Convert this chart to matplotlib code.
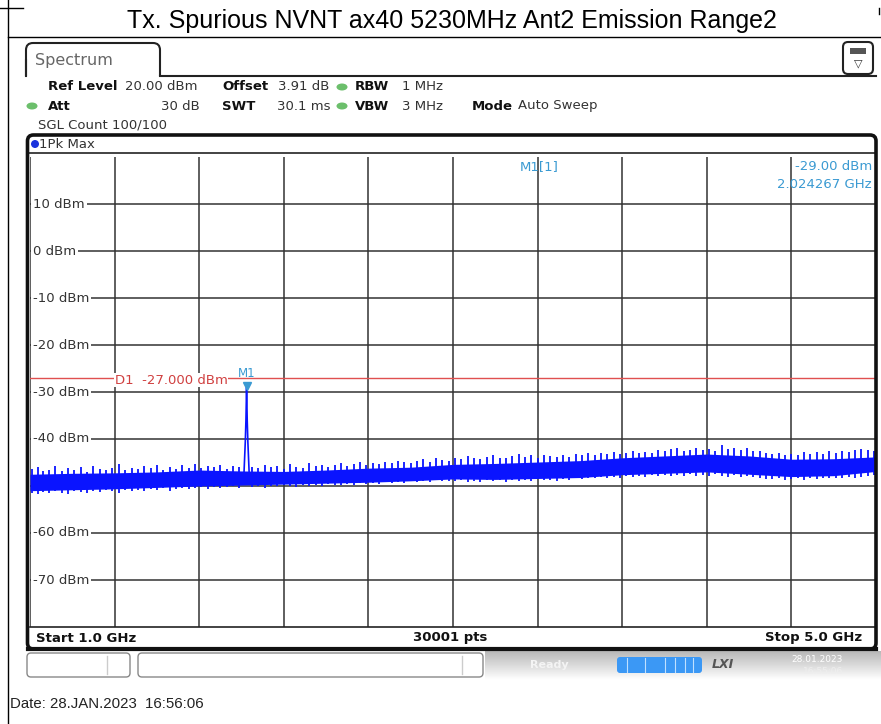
import numpy as np
import matplotlib.pyplot as plt
from matplotlib.patches import FancyBboxPatch, Rectangle, Ellipse

# ---- data (GHz / dBm) ----
start_ghz, stop_ghz = 1.0, 5.0
ref_level = 20
bottom_level = -80
level_ticks = [10, 0, -10, -20, -30, -40, -50, -60, -70]
level_labels = ["10 dBm", "0 dBm", "-10 dBm", "-20 dBm", "-30 dBm", "-40 dBm",
                "-50 dBm", "-60 dBm", "-70 dBm"]
freq_grid = [1.0, 1.4, 1.8, 2.2, 2.6, 3.0, 3.4, 3.8, 4.2, 4.6, 5.0]

# dense noise band (lower / upper edge of the peak trace)
band_freq = [1.0, 1.2, 1.4, 1.6, 1.8, 2.0, 2.2, 2.4, 2.6, 2.8, 3.0,
             3.2, 3.4, 3.6, 3.8, 4.0, 4.2, 4.4, 4.6, 4.8, 5.0]
band_top = [-47.5, -47.3, -47.2, -47.0, -46.6, -46.8, -46.9, -46.6, -46.2, -46.0, -45.4,
            -45.2, -44.9, -44.6, -44.0, -43.6, -43.2, -43.6, -44.3, -44.2, -43.8]
band_bot = [-51.0, -50.8, -50.6, -50.3, -50.0, -49.8, -49.6, -49.4, -49.2, -48.9, -48.5,
            -48.6, -48.4, -48.2, -47.6, -47.3, -47.0, -47.5, -48.0, -47.8, -46.9]

# single columns that stick out of the band (min / max of the column)
spike_f = [1.01, 1.04, 1.06, 1.09, 1.12, 1.15, 1.18, 1.21, 1.24, 1.27, 1.30, 1.33, 1.36, 1.39, 1.42, 1.45, 1.48,
           1.51, 1.54, 1.57, 1.60, 1.63, 1.66, 1.69, 1.72, 1.75, 1.78, 1.81, 1.84, 1.87, 1.90, 1.93, 1.96, 1.99,
           2.05, 2.08, 2.11, 2.14, 2.17, 2.20, 2.23, 2.26, 2.29, 2.32, 2.35, 2.38, 2.41, 2.44, 2.47, 2.50,
           2.53, 2.56, 2.59, 2.62, 2.65, 2.68, 2.71, 2.74, 2.77, 2.80, 2.83, 2.86, 2.89, 2.92, 2.95, 2.98,
           3.01, 3.04, 3.07, 3.10, 3.13, 3.16, 3.19, 3.22, 3.25, 3.28, 3.31, 3.34, 3.37, 3.40, 3.43, 3.46, 3.49,
           3.52, 3.55, 3.58, 3.61, 3.64, 3.67, 3.70, 3.73, 3.76, 3.79, 3.82, 3.85, 3.88, 3.91, 3.94, 3.97,
           4.00, 4.03, 4.06, 4.09, 4.12, 4.15, 4.18, 4.21, 4.24, 4.27, 4.30, 4.33, 4.36, 4.39, 4.42, 4.45, 4.48,
           4.51, 4.54, 4.57, 4.60, 4.63, 4.66, 4.69, 4.72, 4.75, 4.78, 4.81, 4.84, 4.87, 4.90, 4.93, 4.96, 4.99]
spike_hi = [-46.3, -45.9, -46.8, -46.5, -45.8, -46.9, -46.2, -46.6, -46.0, -47.0, -45.7, -46.4, -46.7, -46.1, -45.4, -46.5, -46.2,
            -46.3, -45.8, -46.2, -45.6, -46.5, -46.0, -46.3, -45.6, -46.1, -45.4, -46.2, -45.8, -46.0, -45.6, -46.4, -45.7, -45.9,
            -45.9, -46.2, -45.5, -46.0, -45.8, -46.3, -45.4, -45.9, -46.1, -45.2, -45.8, -45.5, -46.0, -45.6, -45.1, -45.7,
            -45.3, -44.9, -45.5, -45.1, -45.4, -44.8, -45.1, -44.6, -44.9, -45.2, -44.6, -44.3, -44.8, -44.1, -44.5, -44.7,
            -44.0, -44.3, -43.7, -44.1, -44.3, -43.8, -43.4, -44.0, -44.1, -43.6, -43.2, -43.8, -43.5, -44.0, -43.3, -43.7, -43.9,
            -43.4, -43.8, -43.2, -43.5, -43.0, -43.5, -43.0, -43.2, -42.8, -43.2, -42.9, -42.6, -43.0, -42.7, -42.9, -42.4,
            -42.6, -42.2, -42.0, -42.6, -42.3, -41.9, -42.4, -42.1, -42.5, -41.3, -42.2, -41.9, -42.3, -42.0, -42.5, -42.6, -42.9,
            -43.2, -42.9, -43.4, -43.1, -43.3, -42.8, -43.1, -42.7, -43.1, -42.6, -42.9, -42.5, -42.8, -42.4, -42.2, -42.3, -42.5]
spike_lo = [-51.4, -51.7, -51.2, -51.5, -51.1, -51.4, -51.6, -51.0, -51.3, -51.5, -51.0, -51.3, -50.9, -51.1, -51.4, -50.8, -51.0,
            -50.8, -51.1, -50.6, -50.9, -50.5, -51.0, -50.7, -50.4, -50.7, -50.5, -50.3, -50.6, -50.2, -50.5, -50.3, -50.1, -50.4,
            -50.2, -50.0, -50.4, -49.9, -50.1, -49.8, -50.0, -50.3, -49.7, -49.9, -49.8, -50.1, -49.6, -49.8, -49.7, -49.5,
            -49.7, -49.4, -49.6, -49.3, -49.5, -49.2, -49.4, -49.1, -49.3, -49.0, -49.2, -48.9, -49.1, -48.8, -49.0, -48.9,
            -49.0, -48.8, -49.2, -48.9, -49.1, -48.8, -49.0, -48.8, -49.2, -48.7, -49.0, -48.8, -48.9, -48.6, -48.8, -48.7, -48.9,
            -48.6, -48.8, -48.4, -48.6, -48.2, -48.4, -48.1, -48.3, -48.0, -48.2, -47.9, -48.1, -47.8, -48.0, -47.7, -47.9,
            -47.7, -47.9, -47.6, -47.8, -47.5, -47.8, -47.6, -47.9, -47.5, -47.8, -48.0, -47.7, -48.1, -47.9, -48.1, -48.3, -48.5,
            -48.6, -48.4, -48.8, -48.5, -48.4, -48.7, -48.4, -48.5, -48.3, -48.4, -48.2, -48.3, -48.1, -48.2, -48.0, -47.8, -47.6]

# the spurious emission at ~2.02 GHz
sig_f = [2.012, 2.018, 2.021, 2.024, 2.027, 2.030, 2.036]
sig_lvl = [-47.0, -40.5, -36.0, -29.0, -36.0, -40.5, -47.0]

marker_f = 2.024267
marker_lvl = -29.00
d1_level = -27.0

BLUE = "#0a14ff"
MKBLUE = "#3a9ad2"

fig = plt.figure(figsize=(8.81, 7.24), dpi=100)


def px_axes(z):
    a = fig.add_axes([0, 0, 1, 1], zorder=z)
    a.set_xlim(0, 881)
    a.set_ylim(724, 0)
    a.axis('off')
    return a


back = px_axes(0)

# ---- page frame + title ----
back.plot([8, 8], [0, 724], color='k', lw=1)
back.plot([0, 23], [8, 8], color='k', lw=1)
back.plot([8, 881], [37, 37], color='k', lw=1)
back.plot([879, 879], [8, 14], color='k', lw=1)
back.text(452, 21, "Tx. Spurious NVNT ax40 5230MHz Ant2 Emission Range2",
          ha='center', va='center', fontsize=18, family='Liberation Sans')

# ---- Spectrum tab ----
back.add_patch(FancyBboxPatch((26, 43), 134, 40, boxstyle="round,pad=0,rounding_size=7",
                              fc='white', ec='#222', lw=1.5))
back.add_patch(Rectangle((24, 76), 140, 10, fc='white', ec='none'))
back.plot([160, 876], [75.5, 75.5], color='#222', lw=1.5)
back.plot([26, 26], [60, 76], color='#222', lw=1.5)
back.text(35, 60, "Spectrum", fontsize=11.5, color='#666', va='center')
back.add_patch(FancyBboxPatch((843, 42), 30, 32, boxstyle="round,pad=0,rounding_size=5",
                              fc='white', ec='#222', lw=1.5))
back.add_patch(Rectangle((850, 48), 16, 6, fc='#555', ec='none'))
back.text(858, 63, "▽", fontsize=8, ha='center', va='center', color='#333')

# ---- setting rows ----
fs = 9.5
lab = dict(fontsize=fs, fontweight='bold', va='center', color='#111')
val = dict(fontsize=fs, va='center', color='#333')
back.text(48, 87, "Ref Level", **lab)
back.text(125, 87, "20.00 dBm", **val)
back.text(222, 87, "Offset", **lab)
back.text(278, 87, "3.91 dB", **val)
back.text(355, 87, "RBW", **lab)
back.text(402, 87, "1 MHz", **val)
back.text(48, 106, "Att", **lab)
back.text(200, 106, "30 dB", ha='right', **val)
back.text(222, 106, "SWT", **lab)
back.text(277, 106, "30.1 ms", **val)
back.text(355, 106, "VBW", **lab)
back.text(402, 106, "3 MHz", **val)
back.text(472, 106, "Mode", **lab)
back.text(518, 106, "Auto Sweep", **val)
back.text(38, 125, "SGL Count 100/100", **val)
for cx, cy in [(342, 87), (342, 106), (32, 106)]:
    back.add_patch(Ellipse((cx, cy), 11, 7, fc='#6cbf6c', ec='none'))

# ---- trace window header ----
back.plot([28, 876], [153, 153], color='#222', lw=1.2)
back.add_patch(Ellipse((35, 144), 8, 8, fc='#1a33dd', ec='none'))
back.text(39, 144, "1Pk Max", fontsize=fs, va='center', color='#333')

# ---- status bar ----
grad = np.linspace(0.72, 1.0, 50).reshape(-1, 1)
back.imshow(grad, extent=[485, 881, 680, 651], aspect='auto', cmap='gray', vmin=0, vmax=1)
back.set_xlim(0, 881)
back.set_ylim(724, 0)
back.add_patch(FancyBboxPatch((27, 653), 103, 24, boxstyle="round,pad=0,rounding_size=4",
                              fc='white', ec='#888', lw=1))
back.add_patch(FancyBboxPatch((138, 653), 345, 24, boxstyle="round,pad=0,rounding_size=4",
                              fc='white', ec='#888', lw=1))
back.plot([107, 107], [656, 674], color='#ccc', lw=1)
back.plot([462, 462], [656, 674], color='#ccc', lw=1)
back.text(530, 665, "Ready", fontsize=8, fontweight='bold', color='#f4f4f4', va='center')
back.add_patch(FancyBboxPatch((617, 657), 85, 16, boxstyle="round,pad=0,rounding_size=3",
                              fc='#3b98f5', ec='none'))
for xd in [627, 645, 665, 675, 685, 693]:
    back.plot([xd, xd], [658, 672], color='#bfe0ff', lw=0.8)
back.text(712, 665, "LXI", fontsize=9, fontweight='bold', style='italic', color='#555', va='center')
back.text(843, 660, "28.01.2023", fontsize=6.5, color='white', ha='right', va='center')
back.text(843, 672, "16:55:06", fontsize=6.5, color='#eee', ha='right', va='center')

# ---- bottom date line ----
back.text(10, 704, "Date: 28.JAN.2023  16:56:06", fontsize=10.8, family='Liberation Sans',
          va='center', color='#222')

# ---- the spectrum axes ----
ax = fig.add_axes([30 / 881, (724 - 627) / 724, 846 / 881, 470 / 724], zorder=1)
ax.set_xlim(start_ghz, stop_ghz)
ax.set_ylim(bottom_level, ref_level)
ax.set_xticks(freq_grid)
ax.set_yticks(level_ticks)
ax.grid(True, color='#333', lw=1.1)
ax.tick_params(length=0, labelbottom=False, labelleft=False)
for s in ['top', 'left', 'right']:
    ax.spines[s].set_visible(False)
ax.spines['bottom'].set_color('#222')
ax.spines['bottom'].set_linewidth(1.2)
ax.patch.set_alpha(0)

for lv, lb in zip(level_ticks, level_labels):
    ax.text(start_ghz + 0.013, lv, lb, fontsize=9.5, color='#333', va='center', ha='left',
            zorder=1.8, bbox=dict(fc='white', ec='none', pad=1.6))

ax.fill_between(band_freq, band_bot, band_top, color=BLUE, lw=0, zorder=3)
ax.vlines(spike_f, spike_lo, spike_hi, color=BLUE, lw=1.3, zorder=3)
ax.plot(sig_f, sig_lvl, color=BLUE, lw=1.2, zorder=3)

# display line D1
ax.axhline(d1_level, color='#e05050', lw=1.0, zorder=2.5)
ax.text(1.40, d1_level - 0.45, "D1  -27.000 dBm", fontsize=9.5, color='#d04040', va='center',
        zorder=2.6, bbox=dict(fc='white', ec='none', pad=0.5))

# marker M1
ax.plot([marker_f], [marker_lvl + 0.3], marker='v', ms=6, color=MKBLUE, zorder=4)
ax.text(marker_f, marker_lvl + 3.0, "M1", fontsize=8.5, color=MKBLUE, ha='center', va='center', zorder=4)

front = px_axes(2)
# trace window border
front.add_patch(FancyBboxPatch((27.5, 135), 848.5, 514, boxstyle="round,pad=0,rounding_size=6",
                               fc='none', ec='#111', lw=2.6))
front.plot([28, 876], [649, 649], color='#111', lw=3)

# marker readout
front.text(520, 167, "M1[1]", fontsize=9.5, color=MKBLUE, va='center')
front.text(872, 167, "-29.00 dBm", fontsize=9.5, color=MKBLUE, va='center', ha='right')
front.text(872, 185, "2.024267 GHz", fontsize=9.5, color=MKBLUE, va='center', ha='right')

# footer row of the trace window
front.text(36, 638, "Start 1.0 GHz", fontsize=9.5, fontweight='bold', va='center', color='#111')
front.text(450, 638, "30001 pts", fontsize=9.5, fontweight='bold', va='center', ha='center', color='#111')
front.text(862, 638, "Stop 5.0 GHz", fontsize=9.5, fontweight='bold', va='center', ha='right', color='#111')

fig.savefig("out.png", dpi=100)
